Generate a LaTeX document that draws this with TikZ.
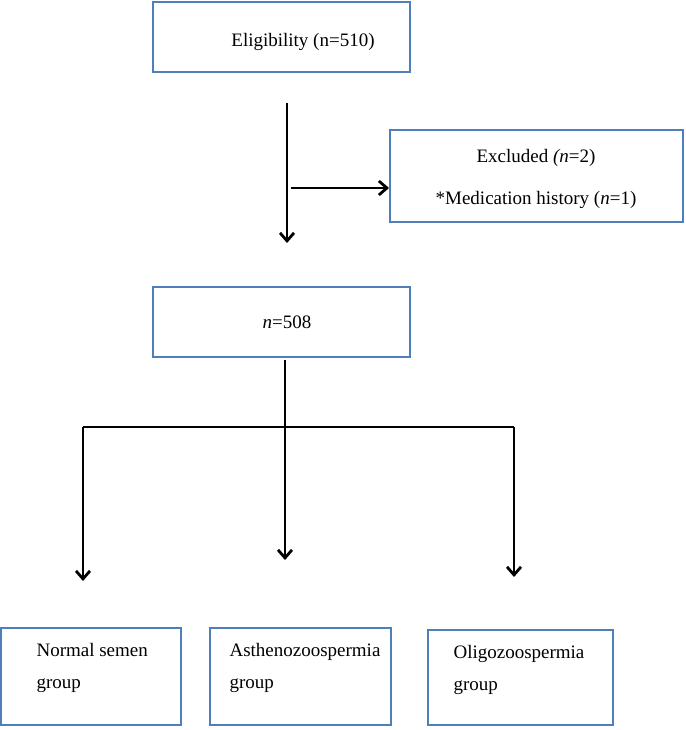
\documentclass[tikz,border=0pt]{standalone}
\usepackage{fontspec}
\setmainfont{Liberation Serif}
\usetikzlibrary{arrows.meta}
\definecolor{boxblue}{HTML}{4F7FB8}
\begin{document}
\begin{tikzpicture}[x=1pt,y=-1pt,
  box/.style={draw=boxblue,line width=1.5pt,inner sep=0pt},
  txt/.style={font=\fontsize{19}{22}\selectfont,align=center},
  ln/.style={line width=2.8pt},
  arr/.style={ln,-{Straight Barb[length=8pt,width=14pt,line width=2.8pt]}}]
\useasboundingbox (0,0) rectangle (685,730);
\draw[box] (153,2) rectangle (410,72);
\node[txt] (elig) at (303,42) {Eligibility (n=510)};
\draw[box] (390,130) rectangle (683,222);
\node[txt] (exc) at (536,158) {Excluded \textit{(n}=2)};
\node[txt] (med) at (536,200) {*Medication history (\textit{n}=1)};
\draw[box] (153,287) rectangle (410,357);
\node[txt] (n508) at (287,322) {\textit{n}=508};
\draw[box] (1,628) rectangle (181,725);
\draw[box] (210,628) rectangle (391,725);
\draw[box] (428,630) rectangle (613,725);
\node[txt,align=left,anchor=north west] (b1) at (33,640) {Normal semen\\[10pt]group};
\node[txt,align=left,anchor=north west] (b2) at (226,640) {Asthenozoospermia\\[10pt]group};
\node[txt,align=left,anchor=north west] (b3) at (450,642) {Oligozoospermia\\[10pt]group};
\coordinate (a1) at (287,103); \coordinate (a2) at (287,243);
\coordinate (h1) at (291,188); \coordinate (h2) at (389,188);
\coordinate (v1) at (285,360); \coordinate (v2) at (285,560);
\coordinate (l) at (83,427); \coordinate (r) at (514,427);
\coordinate (lb) at (83,581); \coordinate (rb) at (514,577);
\draw[arr] (a1) -- (a2);
\draw[arr] (h1) -- (h2);
\draw[arr] (v1) -- (v2);
\draw[ln] (l) -- (r);
\draw[arr] (l) -- (lb);
\draw[arr] (r) -- (rb);
\end{tikzpicture}
\end{document}
